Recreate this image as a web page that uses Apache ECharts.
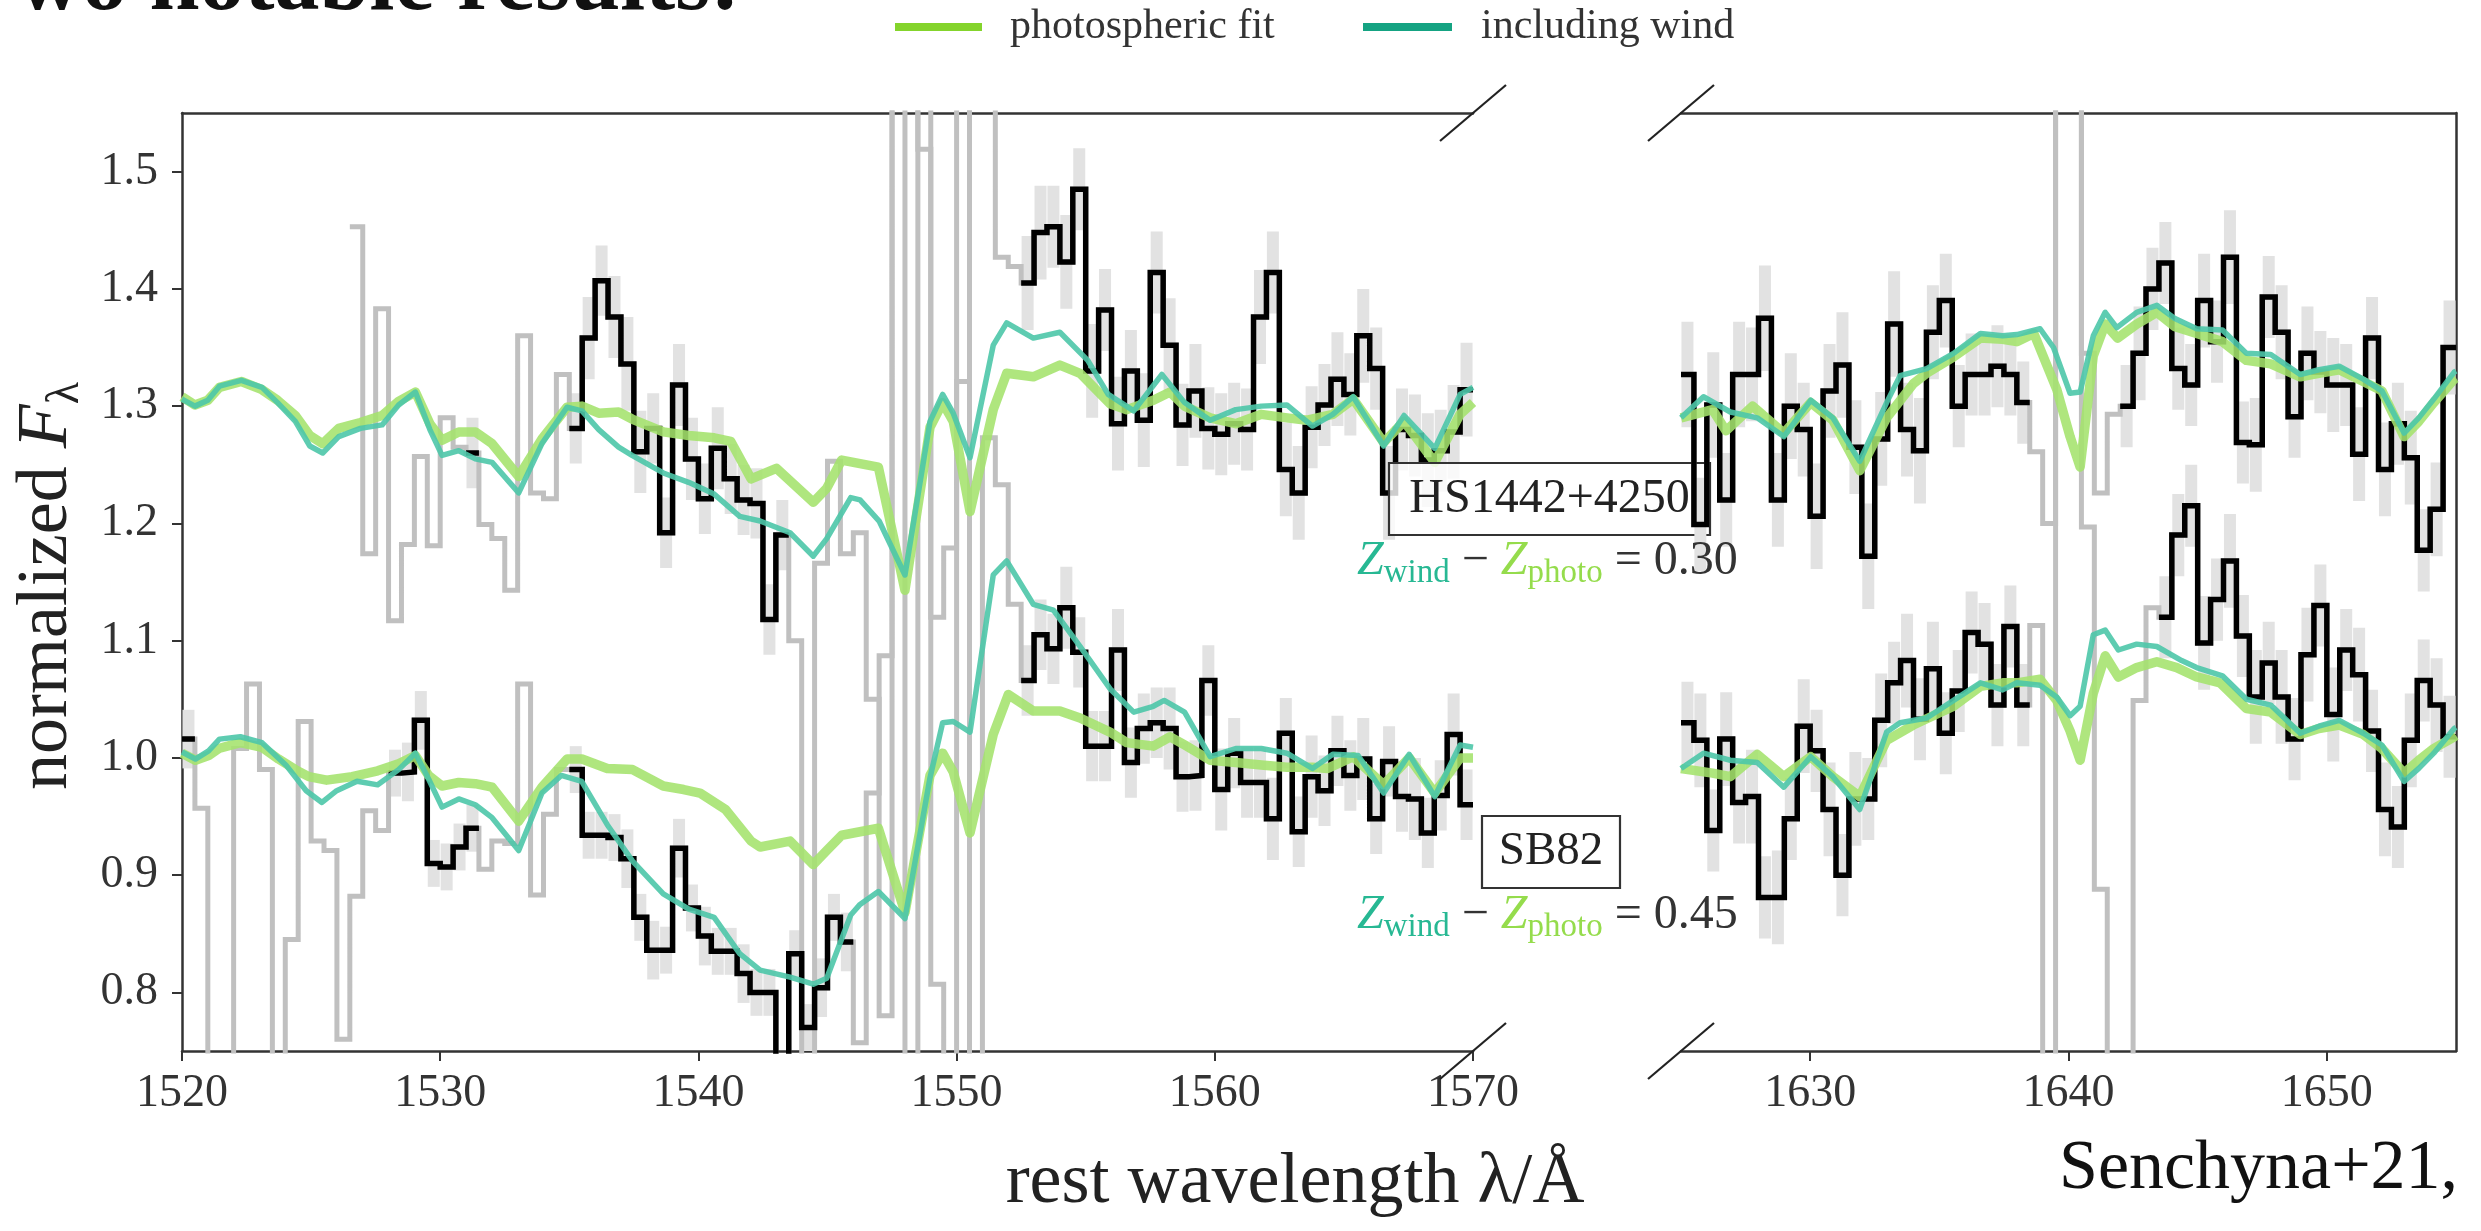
<!DOCTYPE html>
<html>
<head>
<meta charset="utf-8">
<script src="https://cdn.jsdelivr.net/npm/echarts@6/dist/echarts.min.js"></script>
<style>
  html, body { margin: 0; padding: 0; background: #ffffff; }
  #chart { width: 2481px; height: 1231px; }
</style>
</head>
<body>
<div id="chart"></div>
<script>
// ---------------------------------------------------------------------------
// Observed spectra, binned at 0.5 Å (value = normalized flux of the bin that
// starts at start + i*0.5). Error 0 marks a masked bin (drawn in grey only).
// ---------------------------------------------------------------------------
const BIN = 0.5;

// HS1442+4250, blue window (C IV)
const hsLeftStart = 1526.5;
const hsLeftFlux = [
  1.453, 1.174, 1.383, 1.117, 1.182, 1.257, 1.181, 1.290, 1.265, 1.260,
  1.199, 1.187, 1.143, 1.360, 1.226, 1.221, 1.327, 1.281, 1.358, 1.407,
  1.376, 1.336, 1.261, 1.281, 1.192, 1.318, 1.255, 1.221, 1.264, 1.238,
  1.220, 1.217, 1.118, 1.190, 1.100, 0.600, 1.166, 1.253, 1.174, 1.192,
  1.050, 0.780, 1.700, 1.700, 1.519, 1.120, 1.179, 1.321, 1.700, 1.700,
  1.427, 1.419, 1.405, 1.448, 1.453, 1.423, 1.485, 1.330, 1.382, 1.285,
  1.330, 1.288, 1.414, 1.352, 1.284, 1.313, 1.281, 1.276, 1.285, 1.280,
  1.376, 1.414, 1.246, 1.226, 1.282, 1.301, 1.323, 1.310, 1.360, 1.332,
  1.226, 1.280, 1.275, 1.254, 1.262, 1.278, 1.314
];
const hsLeftErr = [
  0, 0, 0, 0, 0, 0, 0, 0, 0, 0.030,
  0, 0, 0, 0, 0, 0, 0, 0.030, 0.035, 0.030,
  0.035, 0.040, 0.035, 0.030, 0.030, 0.035, 0.035, 0.030, 0.035, 0.030,
  0.030, 0.030, 0.030, 0.030, 0, 0, 0, 0, 0, 0,
  0, 0, 0, 0, 0, 0, 0, 0, 0, 0,
  0, 0, 0.040, 0.040, 0.035, 0.040, 0.035, 0.040, 0.035, 0.040,
  0.035, 0.040, 0.035, 0.040, 0.035, 0.040, 0.035, 0.035, 0.035, 0.035,
  0.040, 0.035, 0.040, 0.040, 0.035, 0.035, 0.040, 0.035, 0.040, 0.035,
  0.040, 0.035, 0.035, 0.040, 0.035, 0.040, 0.040
];

// SB82, blue window
const sbLeftStart = 1520.0;
const sbLeftFlux = [
  1.016, 0.957, 0.600, 0.600, 1.008, 1.063, 0.990, 0.600, 0.845, 1.031,
  0.929, 0.921, 0.760, 0.882, 0.955, 0.938, 0.987, 0.988, 1.032, 0.910,
  0.907, 0.924, 0.940, 0.905, 0.929, 0.927, 1.063, 0.883, 0.952, 0.990,
  0.990, 0.934, 0.934, 0.932, 0.914, 0.864, 0.836, 0.836, 0.923, 0.872,
  0.848, 0.835, 0.835, 0.816, 0.800, 0.800, 0.720, 0.833, 0.770, 0.804,
  0.864, 0.843, 0.757, 0.970, 1.087, 1.700, 0.600, 1.700, 0.807, 0.600,
  1.700, 0.600, 1.273, 1.233, 1.131, 1.066, 1.105, 1.093, 1.128, 1.090,
  1.010, 1.010, 1.092, 0.996, 1.025, 1.030, 1.025, 0.984, 0.985, 1.066,
  0.973, 1.004, 0.979, 0.979, 0.948, 1.021, 0.937, 0.984, 0.972, 1.006,
  0.985, 0.999, 0.948, 0.997, 0.967, 0.965, 0.936, 0.968, 1.020, 0.960
];
const sbLeftErr = [
  0.025, 0, 0, 0, 0, 0, 0, 0, 0, 0,
  0, 0, 0, 0, 0, 0, 0.020, 0.025, 0.025, 0.020,
  0.020, 0.020, 0.020, 0, 0, 0, 0, 0, 0, 0,
  0.020, 0.020, 0.020, 0.020, 0.025, 0.020, 0.025, 0.020, 0.025, 0.020,
  0.025, 0.020, 0.020, 0.025, 0.020, 0.020, 0.025, 0.020, 0.020, 0.025,
  0.020, 0.025, 0, 0, 0, 0, 0, 0, 0, 0,
  0, 0, 0, 0, 0, 0.030, 0.030, 0.030, 0.035, 0.030,
  0.030, 0.030, 0.035, 0.030, 0.030, 0.030, 0.035, 0.030, 0.030, 0.030,
  0.035, 0.030, 0.030, 0.030, 0.035, 0.030, 0.030, 0.035, 0.030, 0.030,
  0.030, 0.035, 0.030, 0.030, 0.030, 0.035, 0.030, 0.030, 0.035, 0.030
];

// HS1442+4250, red window (He II)
const hsRightStart = 1625.0;
const hsRightFlux = [
  1.327, 1.199, 1.301, 1.220, 1.327, 1.327, 1.375, 1.220, 1.300, 1.280,
  1.206, 1.313, 1.335, 1.265, 1.172, 1.272, 1.370, 1.280, 1.262, 1.363,
  1.390, 1.300, 1.327, 1.327, 1.334, 1.327, 1.303, 1.261, 1.200, 1.700,
  1.700, 1.345, 1.226, 1.293, 1.300, 1.345, 1.400, 1.422, 1.332, 1.318,
  1.390, 1.355, 1.427, 1.269, 1.267, 1.393, 1.363, 1.291, 1.345, 1.329,
  1.318, 1.318, 1.259, 1.358, 1.246, 1.285, 1.256, 1.177, 1.212, 1.350
];
const hsRightErr = [
  0.045, 0.040, 0.045, 0.040, 0.045, 0.040, 0.045, 0.040, 0.045, 0.040,
  0.045, 0.040, 0.045, 0.040, 0.045, 0.040, 0.045, 0.040, 0.045, 0.040,
  0.040, 0.035, 0.035, 0.035, 0.035, 0.035, 0.035, 0, 0, 0,
  0, 0, 0, 0, 0.035, 0.040, 0.035, 0.035, 0.035, 0.035,
  0.040, 0.035, 0.040, 0.035, 0.040, 0.035, 0.040, 0.035, 0.040, 0.035,
  0.040, 0.035, 0.040, 0.035, 0.040, 0.035, 0.040, 0.035, 0.040, 0.040
];

// SB82, red window
const sbRightStart = 1625.0;
const sbRightFlux = [
  1.030, 1.015, 0.938, 1.016, 0.962, 0.967, 0.881, 0.881, 0.948, 1.027,
  1.006, 0.956, 0.900, 0.965, 0.965, 1.032, 1.064, 1.083, 1.033, 1.076,
  1.021, 1.057, 1.107, 1.097, 1.045, 1.112, 1.045, 1.113, 0.600, 1.700,
  1.700, 1.197, 0.888, 0.600, 0.600, 1.049, 1.128, 1.120, 1.190, 1.215,
  1.098, 1.135, 1.168, 1.104, 1.052, 1.081, 1.052, 1.016, 1.088, 1.130,
  1.037, 1.092, 1.071, 1.023, 0.956, 0.941, 1.015, 1.066, 1.045, 1.018
];
const sbRightErr = [
  0.035, 0.040, 0.035, 0.040, 0.035, 0.040, 0.035, 0.040, 0.035, 0.040,
  0.035, 0.040, 0.035, 0.040, 0.035, 0.040, 0.035, 0.040, 0.035, 0.040,
  0.035, 0.035, 0.035, 0.035, 0.035, 0.035, 0.035, 0, 0, 0,
  0, 0, 0, 0, 0, 0, 0, 0.035, 0.035, 0.035,
  0.040, 0.035, 0.040, 0.035, 0.040, 0.035, 0.040, 0.035, 0.040, 0.035,
  0.040, 0.035, 0.040, 0.035, 0.040, 0.035, 0.040, 0.035, 0.040, 0.035
];

// ---------------------------------------------------------------------------
// Model spectra: [wavelength (Å), normalized flux]
// ---------------------------------------------------------------------------
const hsPhotoLeft = [
  [1520.0,1.308],[1520.5,1.301],[1521.0,1.305],[1521.45,1.316],[1522.3,1.321],[1523.1,1.314],
  [1523.7,1.305],[1524.39,1.292],[1524.95,1.275],[1525.45,1.268],[1526.07,1.281],[1526.91,1.286],
  [1527.75,1.292],[1528.39,1.304],[1529.04,1.312],[1529.6,1.285],[1530.07,1.271],[1530.72,1.278],
  [1531.36,1.278],[1532.01,1.268],[1533.04,1.240],[1533.94,1.272],[1534.91,1.299],[1535.49,1.300],
  [1536.14,1.294],[1536.91,1.295],[1537.43,1.289],[1538.64,1.278],[1539.62,1.275],[1540.61,1.273],
  [1541.25,1.270],[1542.04,1.238],[1543.02,1.247],[1544.45,1.218],[1544.97,1.230],[1545.55,1.254],
  [1546.26,1.251],[1546.97,1.248],[1548.0,1.143],[1548.97,1.282],[1549.46,1.303],[1549.87,1.287],
  [1550.52,1.210],[1551.42,1.297],[1551.94,1.328],[1552.97,1.325],[1554.0,1.335],[1554.78,1.328],
  [1555.94,1.302],[1556.59,1.297],[1557.62,1.305],[1558.27,1.312],[1558.83,1.300],[1559.82,1.290],
  [1560.81,1.285],[1561.8,1.293],[1562.8,1.290],[1563.58,1.288],[1564.57,1.293],[1565.36,1.306],
  [1566.54,1.269],[1567.33,1.287],[1568.52,1.252],[1569.5,1.293],[1570.0,1.303]
];
const hsWindLeft = [
  [1520.0,1.306],[1520.5,1.300],[1521.0,1.305],[1521.45,1.317],[1522.3,1.322],[1523.1,1.316],
  [1523.7,1.303],[1524.39,1.287],[1524.95,1.266],[1525.45,1.260],[1526.07,1.274],[1526.91,1.281],
  [1527.75,1.284],[1528.39,1.301],[1529.04,1.312],[1529.6,1.280],[1530.07,1.258],[1530.72,1.262],
  [1531.36,1.255],[1532.01,1.252],[1533.04,1.226],[1533.94,1.268],[1534.91,1.299],[1535.49,1.296],
  [1536.14,1.280],[1536.91,1.265],[1537.43,1.258],[1538.64,1.243],[1539.62,1.235],[1540.61,1.225],
  [1541.6,1.206],[1542.39,1.202],[1543.55,1.192],[1544.45,1.172],[1544.97,1.187],[1545.9,1.222],
  [1546.26,1.220],[1547.0,1.202],[1548.0,1.156],[1548.97,1.287],[1549.46,1.310],[1549.87,1.294],
  [1550.52,1.256],[1551.42,1.352],[1551.94,1.371],[1552.97,1.358],[1554.0,1.363],[1555.08,1.339],
  [1555.87,1.310],[1556.86,1.296],[1557.95,1.327],[1558.83,1.303],[1559.82,1.288],[1560.81,1.297],
  [1561.8,1.300],[1562.79,1.301],[1563.78,1.283],[1564.57,1.293],[1565.36,1.308],[1566.54,1.266],
  [1567.33,1.292],[1568.52,1.264],[1569.5,1.310],[1570.0,1.316]
];
const sbPhotoLeft = [
  [1520.0,1.004],[1520.52,0.998],[1521.03,1.002],[1521.42,1.008],[1522.26,1.013],[1523.1,1.009],
  [1523.74,0.999],[1524.39,0.990],[1524.91,0.984],[1525.6,0.981],[1526.59,0.984],[1527.58,0.989],
  [1528.39,0.995],[1529.04,1.002],[1529.55,0.985],[1530.07,0.976],[1530.72,0.979],[1531.36,0.978],
  [1532.01,0.975],[1533.04,0.946],[1533.94,0.975],[1534.91,0.999],[1535.49,0.999],[1536.47,0.991],
  [1537.45,0.990],[1538.64,0.976],[1539.43,0.973],[1540.06,0.970],[1541.05,0.956],[1542.04,0.929],
  [1542.39,0.924],[1543.55,0.929],[1544.45,0.909],[1544.97,0.921],[1545.55,0.934],[1546.26,0.937],
  [1546.97,0.940],[1548.0,0.868],[1548.97,0.985],[1549.46,1.004],[1549.87,0.988],[1550.52,0.936],
  [1551.42,1.020],[1552.0,1.054],[1552.97,1.040],[1554.0,1.040],[1554.78,1.034],[1555.94,1.022],
  [1556.59,1.013],[1557.62,1.010],[1558.27,1.018],[1558.83,1.011],[1559.82,0.998],[1560.81,0.996],
  [1561.8,0.994],[1562.79,0.992],[1563.78,0.992],[1564.37,0.991],[1565.36,1.001],[1566.54,0.977],
  [1567.53,1.000],[1568.52,0.970],[1569.5,1.000],[1570.0,1.000]
];
const sbWindLeft = [
  [1520.0,1.005],[1520.52,0.999],[1521.03,1.006],[1521.45,1.016],[1522.26,1.018],[1523.1,1.013],
  [1524.02,0.994],[1524.81,0.972],[1525.42,0.962],[1525.99,0.972],[1526.78,0.980],[1527.58,0.977],
  [1528.39,0.990],[1529.04,1.004],[1529.55,0.982],[1530.07,0.958],[1530.72,0.965],[1531.36,0.960],
  [1532.01,0.949],[1533.04,0.921],[1533.94,0.970],[1534.69,0.985],[1535.48,0.980],[1536.47,0.943],
  [1537.45,0.912],[1538.64,0.884],[1539.63,0.871],[1540.61,0.864],[1541.6,0.833],[1542.39,0.819],
  [1543.55,0.813],[1544.45,0.807],[1544.97,0.812],[1545.9,0.866],[1546.26,0.875],[1546.97,0.886],
  [1548.0,0.863],[1548.97,0.983],[1549.46,1.030],[1549.87,1.031],[1550.52,1.022],[1551.42,1.156],
  [1551.94,1.168],[1552.97,1.131],[1553.75,1.126],[1554.78,1.095],[1555.94,1.059],[1556.86,1.039],
  [1557.62,1.044],[1558.04,1.049],[1558.83,1.039],[1559.82,1.001],[1560.81,1.008],[1561.8,1.008],
  [1562.79,1.004],[1563.78,0.991],[1564.57,1.003],[1565.55,1.002],[1566.54,0.970],[1567.53,1.003],
  [1568.52,0.967],[1569.5,1.011],[1570.0,1.009]
];
const hsPhotoRight = [
  [1625.0,1.290],[1626.22,1.297],[1626.74,1.279],[1627.77,1.300],[1628.98,1.277],[1630.02,1.303],
  [1630.88,1.288],[1631.92,1.245],[1632.96,1.290],[1633.99,1.319],[1634.51,1.328],[1635.55,1.342],
  [1636.59,1.358],[1637.45,1.357],[1638.0,1.355],[1638.66,1.362],[1639.55,1.314],[1640.06,1.274],
  [1640.45,1.248],[1640.96,1.343],[1641.42,1.370],[1641.9,1.358],[1642.64,1.370],[1643.42,1.380],
  [1644.1,1.368],[1644.96,1.362],[1645.96,1.355],[1646.89,1.339],[1647.83,1.336],[1648.97,1.325],
  [1649.69,1.328],[1650.48,1.331],[1651.41,1.321],[1652.13,1.313],[1652.99,1.274],[1653.56,1.287],
  [1654.14,1.303],[1654.93,1.323],[1655.0,1.324]
];
const hsWindRight = [
  [1625.0,1.290],[1625.87,1.308],[1626.91,1.295],[1627.95,1.290],[1628.98,1.274],[1630.02,1.305],
  [1630.88,1.290],[1631.92,1.253],[1632.96,1.303],[1633.48,1.326],[1634.51,1.332],[1635.55,1.345],
  [1636.59,1.362],[1637.45,1.360],[1638.0,1.361],[1638.9,1.366],[1639.42,1.350],[1640.06,1.311],
  [1640.45,1.312],[1640.96,1.360],[1641.42,1.380],[1641.87,1.367],[1642.64,1.380],[1643.42,1.386],
  [1644.1,1.375],[1644.96,1.366],[1645.96,1.365],[1646.89,1.345],[1647.83,1.344],[1648.97,1.327],
  [1649.69,1.331],[1650.48,1.334],[1651.41,1.323],[1652.13,1.313],[1652.99,1.277],[1653.56,1.290],
  [1654.14,1.306],[1654.93,1.329],[1655.0,1.330]
];
const sbPhotoRight = [
  [1625.0,0.991],[1626.22,0.987],[1626.91,0.984],[1627.95,1.003],[1628.98,0.984],[1630.02,1.001],
  [1630.88,0.984],[1631.92,0.967],[1632.96,1.015],[1633.99,1.028],[1635.55,1.044],[1636.59,1.061],
  [1637.45,1.064],[1638.0,1.064],[1638.9,1.067],[1639.54,1.049],[1640.06,1.023],[1640.45,0.998],
  [1640.96,1.055],[1641.42,1.087],[1641.93,1.069],[1642.64,1.077],[1643.42,1.082],[1644.19,1.077],
  [1644.96,1.069],[1645.87,1.064],[1646.89,1.042],[1647.83,1.039],[1648.97,1.020],[1649.69,1.025],
  [1650.48,1.028],[1651.41,1.020],[1652.13,1.008],[1652.99,0.987],[1653.56,0.998],[1654.14,1.008],
  [1654.93,1.018],[1655.0,1.019]
];
const sbWindRight = [
  [1625.0,0.991],[1625.87,1.004],[1626.91,0.998],[1627.95,0.996],[1628.98,0.975],[1630.02,1.001],
  [1630.88,0.984],[1631.92,0.956],[1632.96,1.022],[1633.48,1.030],[1634.51,1.034],[1635.55,1.049],
  [1636.59,1.064],[1637.45,1.058],[1638.0,1.064],[1638.9,1.062],[1639.54,1.052],[1640.06,1.036],
  [1640.45,1.044],[1640.96,1.105],[1641.42,1.109],[1641.93,1.092],[1642.64,1.097],[1643.42,1.095],
  [1644.38,1.083],[1644.96,1.077],[1645.96,1.070],[1646.89,1.050],[1647.83,1.045],[1648.97,1.021],
  [1649.69,1.027],[1650.48,1.032],[1651.41,1.021],[1652.13,1.011],[1652.99,0.980],[1653.56,0.991],
  [1654.14,1.004],[1654.93,1.025],[1655.0,1.026]
];

// Axis ticks
const xTicksLeft = [1520, 1530, 1540, 1550, 1560, 1570];
const xTicksRight = [1630, 1640, 1650];
const yTicks = [0.8, 0.9, 1.0, 1.1, 1.2, 1.3, 1.4, 1.5];

// ---------------------------------------------------------------------------
// Styling
// ---------------------------------------------------------------------------
const SERIF = "'Liberation Serif', 'DejaVu Serif', serif";
const AXIS_COLOR = '#333333';
const GREEN = '#a4e26c';
const TEAL = '#4cc7a9';
const GREEN_KEY = '#84d42c';
const TEAL_KEY = '#15a382';
const GREEN_TXT = '#95dc4c';
const TEAL_TXT = '#27b893';

const LEFT = { left: 182, top: 113, width: 1291, height: 938 };
const RIGHT = { left: 1681, top: 113, width: 775, height: 938 };

// Step line through bin edges; masked bins become gaps when only good bins are kept.
function stepData(start, flux, err, onlyGood) {
  const pts = [];
  for (let i = 0; i < flux.length; i++) {
    const keep = !onlyGood || err[i] > 0;
    pts.push([start + i * BIN, keep ? flux[i] : null]);
  }
  pts.push([start + flux.length * BIN, null]);
  return pts;
}

function errData(start, flux, err) {
  const out = [];
  for (let i = 0; i < flux.length; i++) {
    if (err[i] > 0) out.push([start + (i + 0.5) * BIN, flux[i], err[i]]);
  }
  return out;
}

function renderErr(params, api) {
  const x = api.value(0), y = api.value(1), e = api.value(2);
  const top = api.coord([x, y + e]);
  const bot = api.coord([x, y - e]);
  return {
    type: 'rect',
    shape: { x: top[0] - 6, y: top[1], width: 12, height: bot[1] - top[1] },
    style: { fill: '#e2e2e2' }
  };
}

function panelSeries(ax, zBase, spectra) {
  const yIdx = ax === 0 ? 0 : 1;
  const list = [];
  spectra.forEach(s => {
    list.push({
      type: 'custom', xAxisIndex: ax, yAxisIndex: yIdx, z: zBase,
      clip: true, silent: true, renderItem: renderErr,
      encode: { x: 0, y: 1 },
      data: errData(s.start, s.flux, s.err)
    });
    list.push({
      type: 'line', xAxisIndex: ax, yAxisIndex: yIdx, z: zBase + 1,
      step: 'end', showSymbol: false, silent: true, clip: true,
      lineStyle: { color: '#c0c0c0', width: 5, join: 'miter' },
      data: stepData(s.start, s.flux, s.err, false)
    });
    list.push({
      type: 'line', xAxisIndex: ax, yAxisIndex: yIdx, z: zBase + 2,
      step: 'end', showSymbol: false, silent: true, clip: true,
      lineStyle: { color: '#000000', width: 5.5, join: 'miter' },
      data: stepData(s.start, s.flux, s.err, true)
    });
  });
  spectra.forEach(s => {
    list.push({
      name: 'photospheric fit', type: 'line', xAxisIndex: ax, yAxisIndex: yIdx,
      z: zBase + 3, showSymbol: false, silent: true, clip: true,
      lineStyle: { color: GREEN, width: 9.5, opacity: 0.88, join: 'round' },
      data: s.photo
    });
  });
  spectra.forEach(s => {
    list.push({
      name: 'including wind', type: 'line', xAxisIndex: ax, yAxisIndex: yIdx,
      z: zBase + 4, showSymbol: false, silent: true, clip: true,
      lineStyle: { color: TEAL, width: 5.5, opacity: 0.9, join: 'round' },
      data: s.wind
    });
  });
  return list;
}

const series = [].concat(
  panelSeries(0, 1, [
    { start: hsLeftStart, flux: hsLeftFlux, err: hsLeftErr, photo: hsPhotoLeft, wind: hsWindLeft },
    { start: sbLeftStart, flux: sbLeftFlux, err: sbLeftErr, photo: sbPhotoLeft, wind: sbWindLeft }
  ]),
  panelSeries(2, 21, [
    { start: hsRightStart, flux: hsRightFlux, err: hsRightErr, photo: hsPhotoRight, wind: hsWindRight },
    { start: sbRightStart, flux: sbRightFlux, err: sbRightErr, photo: sbPhotoRight, wind: sbWindRight }
  ])
);

const lineStyleAxis = { color: AXIS_COLOR, width: 2.5 };
const tickLabel = { fontFamily: SERIF, fontSize: 46, color: '#333333' };
const plainNumber = v => String(v);

const xAxis = [
  { gridIndex: 0, type: 'value', min: 1520, max: 1570, interval: 10, position: 'bottom',
    axisLine: { show: true, onZero: false, lineStyle: lineStyleAxis },
    axisTick: { show: true, inside: false, length: 10, lineStyle: { color: AXIS_COLOR, width: 2 }, customValues: xTicksLeft },
    axisLabel: Object.assign({ margin: 20, customValues: xTicksLeft, formatter: plainNumber }, tickLabel),
    splitLine: { show: false } },
  { gridIndex: 0, type: 'value', min: 1520, max: 1570, position: 'top',
    axisLine: { show: true, onZero: false, lineStyle: lineStyleAxis },
    axisTick: { show: false }, axisLabel: { show: false }, splitLine: { show: false } },
  { gridIndex: 1, type: 'value', min: 1625, max: 1655, position: 'bottom',
    axisLine: { show: true, onZero: false, lineStyle: lineStyleAxis },
    axisTick: { show: true, inside: false, length: 10, lineStyle: { color: AXIS_COLOR, width: 2 }, customValues: xTicksRight },
    axisLabel: Object.assign({ margin: 20, customValues: xTicksRight, formatter: plainNumber }, tickLabel),
    splitLine: { show: false } },
  { gridIndex: 1, type: 'value', min: 1625, max: 1655, position: 'top',
    axisLine: { show: true, onZero: false, lineStyle: lineStyleAxis },
    axisTick: { show: false }, axisLabel: { show: false }, splitLine: { show: false } }
];

const yAxis = [
  { gridIndex: 0, type: 'value', min: 0.75, max: 1.55, position: 'left',
    axisLine: { show: true, onZero: false, lineStyle: lineStyleAxis },
    axisTick: { show: true, inside: false, length: 10, lineStyle: { color: AXIS_COLOR, width: 2 }, customValues: yTicks },
    axisLabel: Object.assign({ margin: 24, customValues: yTicks, formatter: v => Number(v).toFixed(1) }, tickLabel),
    splitLine: { show: false } },
  { gridIndex: 1, type: 'value', min: 0.75, max: 1.55, position: 'right',
    axisLine: { show: true, onZero: false, lineStyle: lineStyleAxis },
    axisTick: { show: false }, axisLabel: { show: false }, splitLine: { show: false } }
];

// Diagonal marks where the wavelength axis is broken
function breakMark(cx, cy) {
  return { type: 'line', z: 50, silent: true,
    shape: { x1: cx - 33, y1: cy + 28, x2: cx + 33, y2: cy - 28 },
    style: { stroke: '#222222', lineWidth: 2.2 } };
}

const zRich = (tail) => ({
  text: '{z|Z}{zs|wind}{t| \u2212 }{p|Z}{ps|photo}{t| = ' + tail + '}',
  align: 'left', verticalAlign: 'middle',
  rich: {
    z:  { fontFamily: SERIF, fontStyle: 'italic', fontSize: 48, fill: TEAL_TXT, lineHeight: 58 },
    zs: { fontFamily: SERIF, fontSize: 33, fill: TEAL_TXT, lineHeight: 29, verticalAlign: 'bottom' },
    p:  { fontFamily: SERIF, fontStyle: 'italic', fontSize: 48, fill: GREEN_TXT, lineHeight: 58 },
    ps: { fontFamily: SERIF, fontSize: 33, fill: GREEN_TXT, lineHeight: 29, verticalAlign: 'bottom' },
    t:  { fontFamily: SERIF, fontSize: 48, fill: '#333333', lineHeight: 58 }
  }
});

const graphic = [
  // heading fragment
  { type: 'text', x: 17, y: -14, z: 60, silent: true,
    style: { text: 'wo notable results:', fontFamily: SERIF, fontWeight: 'bold', fontSize: 90,
             fill: '#111111', align: 'left', verticalAlign: 'middle' } },
  // key
  { type: 'rect', z: 60, silent: true, shape: { x: 895, y: 23, width: 87, height: 8 }, style: { fill: GREEN_KEY } },
  { type: 'text', x: 1010, y: 27, z: 60, silent: true,
    style: { text: 'photospheric fit', fontFamily: SERIF, fontSize: 42, fill: '#333333', align: 'left', verticalAlign: 'middle' } },
  { type: 'rect', z: 60, silent: true, shape: { x: 1363, y: 23, width: 89, height: 8 }, style: { fill: TEAL_KEY } },
  { type: 'text', x: 1481, y: 27, z: 60, silent: true,
    style: { text: 'including wind', fontFamily: SERIF, fontSize: 42, fill: '#333333', align: 'left', verticalAlign: 'middle' } },
  // axis breaks
  breakMark(LEFT.left + LEFT.width, LEFT.top),
  breakMark(RIGHT.left, RIGHT.top),
  breakMark(LEFT.left + LEFT.width, LEFT.top + LEFT.height),
  breakMark(RIGHT.left, RIGHT.top + RIGHT.height),
  // object labels
  { type: 'rect', z: 10, silent: true, shape: { x: 1389, y: 463, width: 321, height: 72 },
    style: { fill: 'rgba(255,255,255,0.8)', stroke: '#333333', lineWidth: 2.2 } },
  { type: 'text', x: 1549.5, y: 499, z: 60, silent: true,
    style: { text: 'HS1442+4250', fontFamily: SERIF, fontSize: 48, fill: '#222222', align: 'center', verticalAlign: 'middle' } },
  { type: 'rect', z: 10, silent: true, shape: { x: 1482, y: 816, width: 138, height: 72 },
    style: { fill: 'rgba(255,255,255,0.8)', stroke: '#333333', lineWidth: 2.2 } },
  { type: 'text', x: 1551, y: 852, z: 60, silent: true,
    style: { text: 'SB82', fontFamily: SERIF, fontSize: 47, fill: '#222222', align: 'center', verticalAlign: 'middle' } },
  { type: 'text', x: 1357, y: 561, z: 60, silent: true, style: zRich('0.30') },
  { type: 'text', x: 1357, y: 915, z: 60, silent: true, style: zRich('0.45') },
  // axis titles
  { type: 'text', x: 1295, y: 1183, z: 60, silent: true,
    style: { text: 'rest wavelength \u03bb/\u00c5', fontFamily: SERIF, fontSize: 72, fill: '#222222',
             align: 'center', verticalAlign: 'middle' } },
  { type: 'text', x: 47, y: 586, rotation: Math.PI / 2, z: 60, silent: true,
    style: {
      text: '{n|normalized }{f|F}{s|\u03bb}', align: 'center', verticalAlign: 'middle',
      rich: {
        n: { fontFamily: SERIF, fontSize: 72, fill: '#222222', lineHeight: 84 },
        f: { fontFamily: SERIF, fontStyle: 'italic', fontSize: 72, fill: '#222222', lineHeight: 84 },
        s: { fontFamily: SERIF, fontSize: 46, fill: '#222222', lineHeight: 46, verticalAlign: 'bottom' }
      }
    } },
  // citation
  { type: 'text', x: 2059, y: 1170, z: 60, silent: true,
    style: { text: 'Senchyna+21,', fontFamily: SERIF, fontSize: 70, fill: '#111111', align: 'left', verticalAlign: 'middle' } }
];

const chart = echarts.init(document.getElementById('chart'), null, { renderer: 'canvas' });
chart.setOption({
  animation: false,
  backgroundColor: '#ffffff',
  grid: [
    Object.assign({ outerBoundsMode: 'none', containLabel: false }, LEFT),
    Object.assign({ outerBoundsMode: 'none', containLabel: false }, RIGHT)
  ],
  xAxis: xAxis,
  yAxis: yAxis,
  series: series,
  graphic: graphic
});
</script>
</body>
</html>
